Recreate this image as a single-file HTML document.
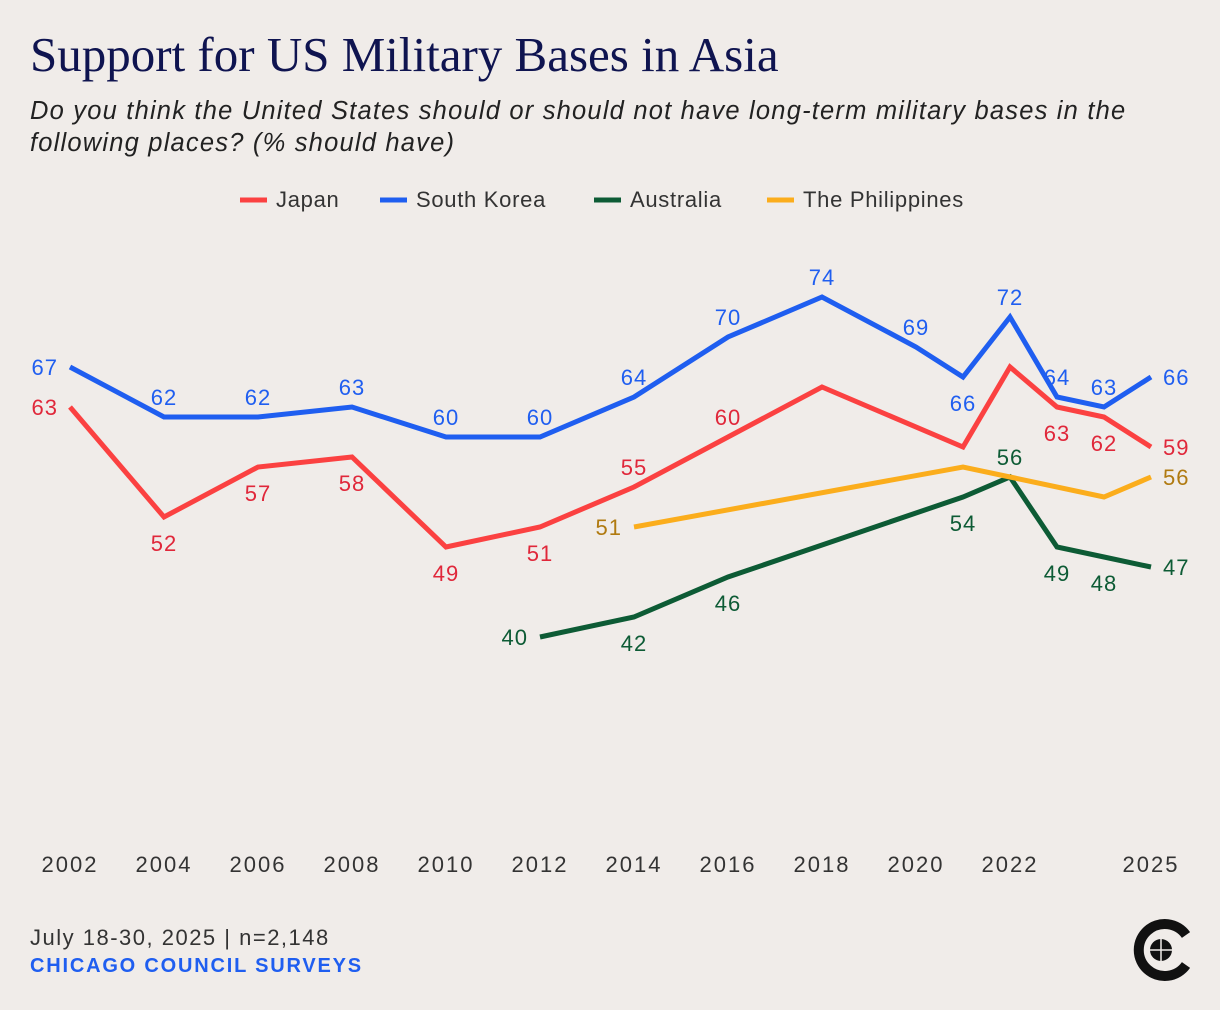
<!DOCTYPE html>
<html><head><meta charset="utf-8"><style>
body{margin:0;width:1220px;height:1010px;background:#f0ece9;overflow:hidden;font-family:"Liberation Sans",sans-serif}
.t{position:absolute;left:30px;top:26px;font-family:"Liberation Serif",serif;font-size:49px;color:#0f1450;letter-spacing:0px}
.s{position:absolute;left:30px;top:95px;font-style:italic;font-size:25.5px;line-height:32px;color:#222;width:1180px;letter-spacing:1.2px}
.f1{position:absolute;left:30px;top:925px;font-size:22px;color:#333;letter-spacing:1.5px}
.f2{position:absolute;left:30px;top:955px;font-size:20px;font-weight:bold;color:#1f5ef0;letter-spacing:1.8px}
</style></head><body>
<div class="t">Support for US Military Bases in Asia</div>
<div class="s">Do you think the United States should or should not have long-term military bases in the following places? (% should have)</div>
<svg id="c" width="1220" height="1010" style="position:absolute;left:0;top:0"></svg>
<div class="f1">July 18-30, 2025 | n=2,148</div>
<div class="f2">CHICAGO COUNCIL SURVEYS</div>
<script>
const ticks=[2002,2004,2006,2008,2010,2012,2014,2016,2018,2020,2022,2025];
const japanYears=[2002,2004,2006,2008,2010,2012,2014,2016,2018,2021,2022,2023,2024,2025];
const japanVals=[63,52,57,58,49,51,55,60,65,59,67,63,62,59];
const japanLbl=['l','b','b','b','b','b','a','a',null,null,null,'b','b','r'];
const koreaYears=[2002,2004,2006,2008,2010,2012,2014,2016,2018,2020,2021,2022,2023,2024,2025];
const koreaVals=[67,62,62,63,60,60,64,70,74,69,66,72,64,63,66];
const koreaLbl=['l','a','a','a','a','a','a','a','a','a','b','a','a','a','r'];
const ausYears=[2012,2014,2016,2021,2022,2023,2024,2025];
const ausVals=[40,42,46,54,56,49,48,47];
const ausLbl=['l','b','b','b','a','b','b','r'];
const phYears=[2014,2021,2022,2024,2025];
const phVals=[51,57,56,54,56];
const phLbl=['l',null,null,null,'r'];
const X=y=>70+(y-2002)*47, Y=v=>1037-10*v;
const svg=document.getElementById('c'),NS='http://www.w3.org/2000/svg';
function mk(t,a,p){const e=document.createElementNS(NS,t);for(const k in a)e.setAttribute(k,a[k]);(p||svg).appendChild(e);return e;}
ticks.forEach(t=>{const e=mk('text',{x:X(t),y:872,'text-anchor':'middle','font-size':22,'letter-spacing':2,fill:'#333','font-family':'Liberation Sans,sans-serif'});e.textContent=t;

});
const series=[['japan',japanYears,japanVals,japanLbl,'#fb4141','#e0273a'],['south-korea',koreaYears,koreaVals,koreaLbl,'#1f5ef0','#1f5ef0'],['australia',ausYears,ausVals,ausLbl,'#0d5b35','#0d5b35'],['philippines',phYears,phVals,phLbl,'#fbad1c','#b07a10']];
series.forEach(([n,ys,vs,lb,col,tc])=>{
const p=mk('polyline',{points:ys.map((y,i)=>X(y)+','+Y(vs[i])).join(' '),fill:'none',stroke:col,'stroke-width':5,'stroke-linejoin':'miter'});


ys.forEach((y,i)=>{const l=lb[i];if(!l)return;let x=X(y),yy=Y(vs[i]),a='middle';
if(l=='a')yy-=12;else if(l=='b')yy+=34;else if(l=='l'){x-=12;a='end';yy+=8;}else{x+=12;a='start';yy+=8;}
const e=mk('text',{x:x,y:yy,'text-anchor':a,'font-size':22,'letter-spacing':1,fill:tc,'font-family':'Liberation Sans,sans-serif'});e.textContent=vs[i];

});});
const leg=[['Japan','#fb4141',240],['South Korea','#1f5ef0',380],['Australia','#0d5b35',594],['The Philippines','#fbad1c',767]];
leg.forEach(([n,c,x])=>{const g=mk('g',{});


mk('line',{x1:x,x2:x+27,y1:200,y2:200,stroke:c,'stroke-width':5},g);
const e=mk('text',{x:x+36,y:207,'font-size':22,'letter-spacing':0.7,fill:'#333','font-family':'Liberation Sans,sans-serif'},g);e.textContent=n;});
const lg=mk('g',{});


mk('path',{d:'M1186 935 A26 26 0 1 0 1186 965',fill:'none',stroke:'#111','stroke-width':10},lg);
mk('circle',{cx:1161,cy:950,r:11,fill:'#111'},lg);
mk('path',{d:'M1150 950 H1172 M1161 939 V961',stroke:'#f0ece9','stroke-width':1.5},lg);
</script>
</body></html>
